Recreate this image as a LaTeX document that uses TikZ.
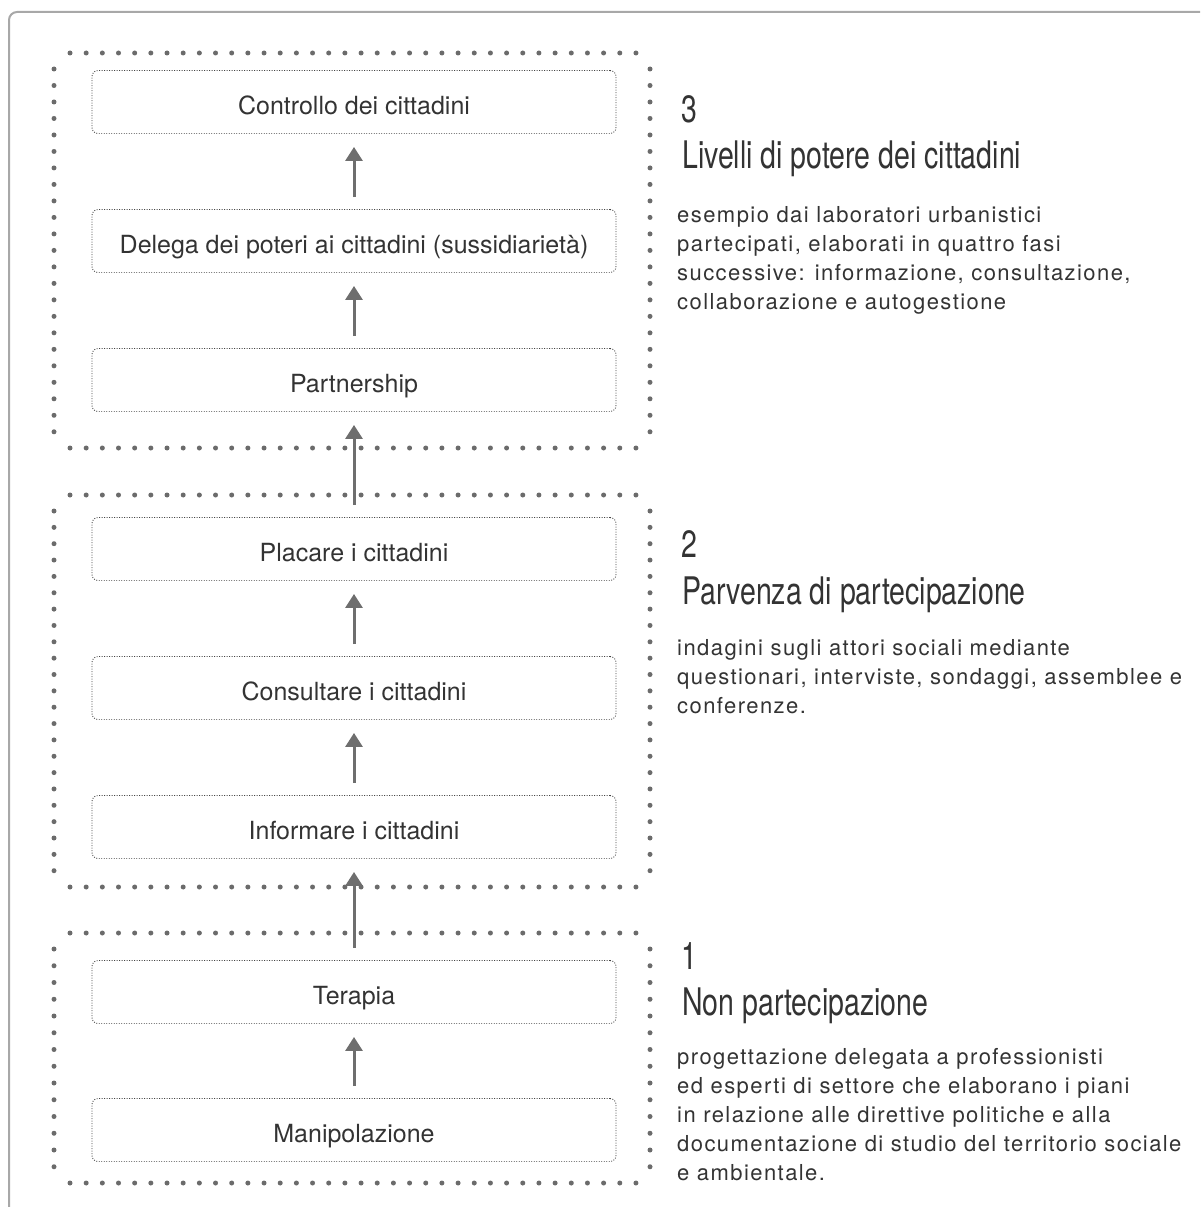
\documentclass[tikz,border=0pt]{standalone}
\usepackage{fontspec}
\setmainfont{TeX Gyre Heros}
\newfontfamily\titlefont[FakeStretch=0.75]{TeX Gyre Heros}
\newfontfamily\descfont[LetterSpace=6.5]{TeX Gyre Heros}
\usetikzlibrary{arrows.meta}
\definecolor{framegray}{HTML}{A8A8A8}
\definecolor{dotgray}{HTML}{6B6B6B}
\definecolor{boxgray}{HTML}{444444}
\definecolor{arrgray}{HTML}{6E6E6E}
\definecolor{labelgray}{HTML}{333333}
\definecolor{descgray}{HTML}{333333}
\tikzset{
  grpdots/.style={dotgray, line width=5pt, line cap=round, dash pattern=on 0pt off #1},
  grpdots/.default=16.3pt,
  stepbox/.style={draw=boxgray, line width=0.9pt, dash pattern=on 0.9pt off 1.6pt,
    rounded corners=6pt, minimum width=524pt, minimum height=63pt, inner sep=0pt,
    text height=25pt, text depth=0pt,
    text=labelgray, font=\fontsize{25}{30}\selectfont},
  arr/.style={arrgray, line width=3pt, -{Triangle[width=17pt,length=14pt]},
    shorten <=12pt, shorten >=13pt},
  numtxt/.style={anchor=base west, inner sep=0pt, text=labelgray,
    font=\titlefont\fontsize{38}{40}\selectfont},
  titletxt/.style={anchor=base west, inner sep=0pt, text=labelgray,
    font=\titlefont\fontsize{38}{40}\selectfont},
  desctxt/.style={anchor=base west, inner sep=0pt, text=descgray,
    font=\descfont\fontsize{22}{29}\selectfont}
}
\begin{document}
\begin{tikzpicture}[x=1pt,y=-1pt]
\useasboundingbox (0,0) rectangle (1200,1207);
\begin{scope}
  \clip (0,0) rectangle (1200,1207);
  \draw[framegray, line width=2pt, rounded corners=8pt] (9,12) rectangle (1240,1240);
\end{scope}

% group 3 dotted frame
\draw[grpdots=16.17pt] (70,53) -- (636.2,53);
\draw[grpdots=16.17pt] (70,448) -- (636.2,448);
\draw[grpdots=16.49pt] (54,69) -- (54,432.2);
\draw[grpdots=16.49pt] (650,69) -- (650,432.2);
% group 2 dotted frame
\draw[grpdots=16.17pt] (70,495) -- (636.2,495);
\draw[grpdots=16.17pt] (70,887) -- (636.2,887);
\draw[grpdots=16.35pt] (54,511) -- (54,871.2);
\draw[grpdots=16.35pt] (650,511) -- (650,871.2);
% group 1 dotted frame
\draw[grpdots=16.17pt] (70,933) -- (636.2,933);
\draw[grpdots=16.17pt] (70,1183) -- (636.2,1183);
\draw[grpdots=16.75pt] (54,949) -- (54,1167.2);
\draw[grpdots=16.75pt] (650,949) -- (650,1167.2);

% boxes
\node[stepbox] (controllo) at (354,102) {Controllo dei cittadini};
\node[stepbox] (delega) at (354,241) {Delega dei poteri ai cittadini (sussidiarietà)};
\node[stepbox] (partnership) at (354,380) {Partnership};
\node[stepbox] (placare) at (354,549) {Placare i cittadini};
\node[stepbox] (consultare) at (354,688) {Consultare i cittadini};
\node[stepbox] (informare) at (354,827) {Informare i cittadini};
\node[stepbox] (terapia) at (354,992) {Terapia};
\node[stepbox] (manipolazione) at (354,1130) {Manipolazione};

% arrows
\draw[arr] (delega) -- (controllo);
\draw[arr] (partnership) -- (delega);
\draw[arr] (placare) -- (partnership);
\draw[arr] (consultare) -- (placare);
\draw[arr] (informare) -- (consultare);
\draw[arr] (terapia) -- (informare);
\draw[arr] (manipolazione) -- (terapia);

% right-hand texts
\node[numtxt] (n3) at (681,122) {3};
\node[titletxt] (t3) at (682,168) {Livelli di potere dei cittadini};
\node[desctxt] (d3) at (677,222) {\begin{tabular}[t]{@{}l@{}}esempio dai laboratori urbanistici\\partecipati, elaborati in quattro fasi\\successive: informazione, consultazione,\\collaborazione e autogestione\end{tabular}};

\node[numtxt] (n2) at (681,557) {2};
\node[titletxt] (t2) at (682,604) {Parvenza di partecipazione};
\node[desctxt] (d2) at (677,655) {\begin{tabular}[t]{@{}l@{}}indagini sugli attori sociali mediante\\questionari, interviste, sondaggi, assemblee e\\conferenze.\end{tabular}};

\node[numtxt] (n1) at (681,969) {1};
\node[titletxt] (t1) at (682,1015) {Non partecipazione};
\node[desctxt] (d1) at (677,1064) {\begin{tabular}[t]{@{}l@{}}progettazione delegata a professionisti\\ed esperti di settore che elaborano i piani\\in relazione alle direttive politiche e alla\\documentazione di studio del territorio sociale\\e ambientale.\end{tabular}};
\end{tikzpicture}
\end{document}
